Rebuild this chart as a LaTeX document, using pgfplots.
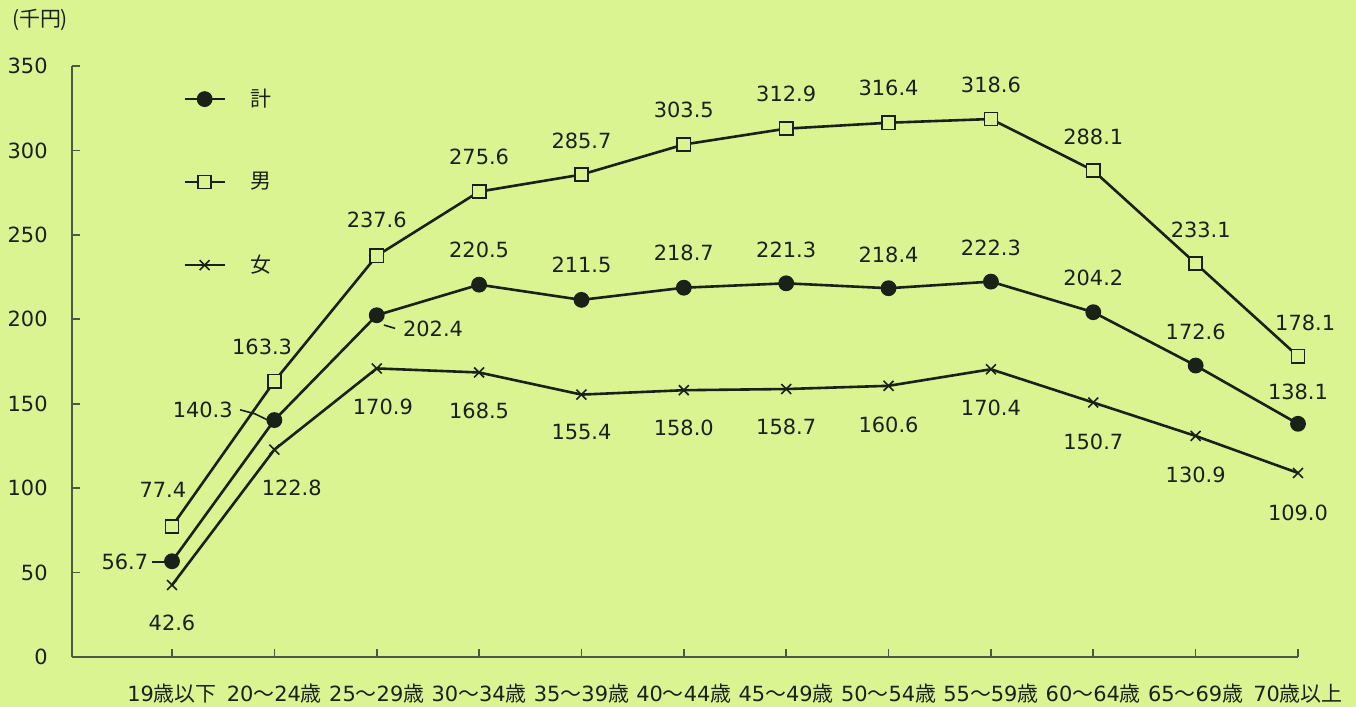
\documentclass[border=0pt]{standalone}
\usepackage{pgfplots}
\pgfplotsset{compat=1.18}
\usepackage{fontspec}
\setmainfont{DejaVu Sans}
\newfontfamily\jp{Noto Sans CJK JP}

\definecolor{bg}{RGB}{218,244,146}
\definecolor{ink}{RGB}{26,34,24}
\definecolor{axc}{RGB}{78,88,72}

\pgfplotstableread{
x  total  male  female
0  56.7   77.4  42.6
1  140.3  163.3 122.8
2  202.4  237.6 170.9
3  220.5  275.6 168.5
4  211.5  285.7 155.4
5  218.7  303.5 158.0
6  221.3  312.9 158.7
7  218.4  316.4 160.6
8  222.3  318.6 170.4
9  204.2  288.1 150.7
10 172.6  233.1 130.9
11 138.1  178.1 109.0
}\wages

\tikzset{lab/.style={font=\fontsize{10.5}{12}\selectfont, inner sep=0pt, text=ink}}

\begin{document}
\begin{tikzpicture}
\fill[bg] (-36bp,-25bp) rectangle (642bp,328.5bp);
\begin{axis}[
    at={(0,0)}, anchor=south west,
    width=613bp, height=295.5bp, scale only axis,
    xmin=-0.977, xmax=11, ymin=0, ymax=350,
    clip=false,
    axis x line*=bottom, axis y line*=left,
    axis line style={axc, line width=0.8bp},
    tick style={axc, line width=0.8bp},
    tick align=inside, major tick length=4bp,
    xtick={0,...,11},
    xticklabels={19{\jp 歳以下}, 20{\jp ～}24{\jp 歳}, 25{\jp ～}29{\jp 歳}, 30{\jp ～}34{\jp 歳},
      35{\jp ～}39{\jp 歳}, 40{\jp ～}44{\jp 歳}, 45{\jp ～}49{\jp 歳}, 50{\jp ～}54{\jp 歳},
      55{\jp ～}59{\jp 歳}, 60{\jp ～}64{\jp 歳}, 65{\jp ～}69{\jp 歳}, 70{\jp 歳以上}},
    ytick={0,50,...,350},
    /pgf/number format/assume math mode=true,
    ticklabel style={font=\fontsize{10.5}{12}\selectfont, text=ink, inner sep=0pt},
    xticklabel style={anchor=base, yshift=-22bp},
    yticklabel style={anchor=east, xshift=-12bp},
    legend style={at={(0.0905,0.962)}, anchor=north west, draw=none, fill=none,
      inner sep=0pt, row sep=31.5bp, column sep=12.5bp, font=\fontsize{10.5}{12}\selectfont,
      nodes={inner sep=0pt, text=ink}},
    legend cell align=left,
    legend image code/.code={
      \draw[mark repeat=2, mark phase=2, #1] plot coordinates {(0bp,0bp) (10bp,0bp) (20bp,0bp)};},
]
\addplot[ink, line width=1.3bp, mark=*, mark size=3.3bp, mark options={fill=ink}]
  table[x=x, y=total] {\wages};
\addlegendentry{\jp 計}
\addplot[ink, line width=1.3bp, mark=square*, mark size=3.3bp, mark options={fill=bg, line width=0.8bp}]
  table[x=x, y=male] {\wages};
\addlegendentry{\jp 男}
\addplot[ink, line width=1.3bp, mark=x, mark size=3.5bp, mark options={line width=0.8bp}]
  table[x=x, y=female] {\wages};
\addlegendentry{\jp 女}

% data labels: total
\node[lab] at (axis cs:-0.46,56.3) {56.7};
\draw[ink, line width=0.8bp] (axis cs:-0.195,56.3) -- (axis cs:-0.06,56.3);
\node[lab] at (axis cs:0.30,146.4) {140.3};
\draw[ink, line width=0.8bp] (axis cs:0.665,146.4) -- (axis cs:0.81,144.0) -- (axis cs:0.957,139.7);
\node[lab] at (axis cs:2.55,194.6) {202.4};
\draw[ink, line width=0.8bp] (axis cs:2.07,196.6) -- (axis cs:2.18,194.6);
\node[lab] at (axis cs:3,241.0) {220.5};
\node[lab] at (axis cs:4,232.1) {211.5};
\node[lab] at (axis cs:5,239.1) {218.7};
\node[lab] at (axis cs:6,241.0) {221.3};
\node[lab] at (axis cs:7,238.1) {218.4};
\node[lab] at (axis cs:8,242.4) {222.3};
\node[lab] at (axis cs:9,224.3) {204.2};
\node[lab] at (axis cs:10,192.7) {172.6};
\node[lab] at (axis cs:11,157.1) {138.1};
% male
\node[lab] at (axis cs:-0.09,98.9) {77.4};
\node[lab] at (axis cs:0.88,183.6) {163.3};
\node[lab] at (axis cs:2,258.8) {237.6};
\node[lab] at (axis cs:3,295.9) {275.6};
\node[lab] at (axis cs:4,305.8) {285.7};
\node[lab] at (axis cs:5,323.9) {303.5};
\node[lab] at (axis cs:6,333.4) {312.9};
\node[lab] at (axis cs:7,336.8) {316.4};
\node[lab] at (axis cs:8,338.7) {318.6};
\node[lab] at (axis cs:9,308.1) {288.1};
\node[lab] at (axis cs:10.05,252.9) {233.1};
\node[lab] at (axis cs:11.07,197.6) {178.1};
% female
\node[lab] at (axis cs:0,20.1) {42.6};
\node[lab] at (axis cs:1.17,100.1) {122.8};
\node[lab] at (axis cs:2.06,148.2) {170.9};
\node[lab] at (axis cs:3,145.9) {168.5};
\node[lab] at (axis cs:4,133.4) {155.4};
\node[lab] at (axis cs:5,135.4) {158.0};
\node[lab] at (axis cs:6,136.0) {158.7};
\node[lab] at (axis cs:7,137.4) {160.6};
\node[lab] at (axis cs:8,147.3) {170.4};
\node[lab] at (axis cs:9,127.5) {150.7};
\node[lab] at (axis cs:10,107.8) {130.9};
\node[lab] at (axis cs:11,85.1) {109.0};

\node[lab, font=\jp\fontsize{10.5}{12}\selectfont] at (rel axis cs:-0.0261,1.0778) {(千円)};
\end{axis}
\pgfresetboundingbox
\path[use as bounding box] (-36bp,-25bp) rectangle (642bp,328.5bp);
\end{tikzpicture}
\end{document}
